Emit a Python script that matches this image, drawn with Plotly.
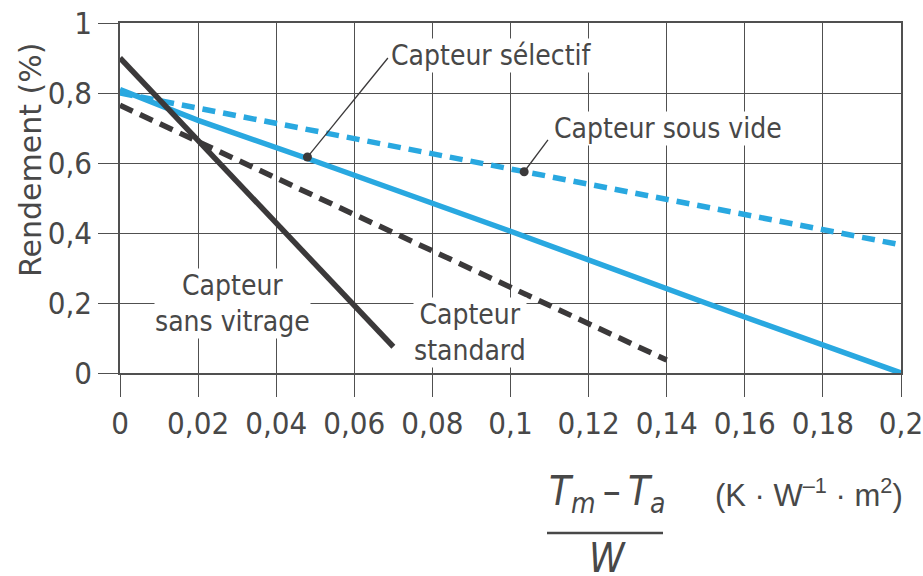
import plotly.graph_objects as go

# Data
x_sans_vitrage = [0.0, 0.07]
y_sans_vitrage = [0.90, 0.075]

x_standard = [0.0, 0.14]
y_standard = [0.765, 0.037]

x_selectif = [0.0, 0.02, 0.05, 0.10, 0.15, 0.20]
y_selectif = [0.81, 0.722, 0.605, 0.405, 0.20, 0.0]

x_sous_vide = [0.0, 0.2]
y_sous_vide = [0.80, 0.366]

marker_x = [0.048, 0.1035]
marker_y = [0.617, 0.575]

x_ticks = [0, 0.02, 0.04, 0.06, 0.08, 0.1, 0.12, 0.14, 0.16, 0.18, 0.2]
x_ticklabels = ["0", "0,02", "0,04", "0,06", "0,08", "0,1", "0,12", "0,14", "0,16", "0,18", "0,2"]
y_ticks = [0, 0.2, 0.4, 0.6, 0.8, 1.0]
y_ticklabels = ["0", "0,2", "0,4", "0,6", "0,8", "1"]

BLUE = "#29a8e0"
DARK = "#3b393a"
TXT = "#484848"
GRID = "#505050"
NARROW = "Liberation Sans Narrow, DejaVu Sans Condensed, sans-serif"
REG = "Liberation Sans, Arial, sans-serif"

L, R, T, B = 120, 22, 23, 203
PW, PH = 923 - L - R, 576 - T - B


def px(xp):
    return (xp - L) / PW


def py(yp):
    return (576 - B - yp) / PH


fig = go.Figure()

fig.add_trace(go.Scatter(x=x_sous_vide, y=y_sous_vide, mode="lines",
                         line=dict(color=BLUE, width=5.5, dash="13px,8px"), showlegend=False))
fig.add_trace(go.Scatter(x=x_selectif, y=y_selectif, mode="lines",
                         line=dict(color=BLUE, width=5.5), showlegend=False))
fig.add_trace(go.Scatter(x=x_standard, y=y_standard, mode="lines",
                         line=dict(color=DARK, width=5.5, dash="14px,8px"), showlegend=False))
fig.add_trace(go.Scatter(x=x_sans_vitrage, y=y_sans_vitrage, mode="lines",
                         line=dict(color=DARK, width=5.5), showlegend=False))

# leader lines
fig.add_trace(go.Scatter(x=[marker_x[0], 0.0686], y=[marker_y[0], 0.90], mode="lines",
                         line=dict(color=DARK, width=1.3), showlegend=False))
fig.add_trace(go.Scatter(x=[marker_x[1], 0.1096], y=[marker_y[1], 0.666], mode="lines",
                         line=dict(color=DARK, width=1.3), showlegend=False))
fig.add_trace(go.Scatter(x=marker_x, y=marker_y, mode="markers",
                         marker=dict(color=DARK, size=9), showlegend=False))

lab_font = dict(family=NARROW, size=28, color=TXT)
fig.add_annotation(x=0.0691, y=0.906, text="Capteur sélectif", showarrow=False,
                   xanchor="left", yanchor="middle", font=lab_font, bgcolor="white",
                   borderpad=0)
fig.add_annotation(x=0.1109, y=0.700, text="Capteur sous vide", showarrow=False,
                   xanchor="left", yanchor="middle", font=lab_font, bgcolor="white",
                   borderpad=0)
fig.add_annotation(x=0.0289, y=0.200, text="Capteur<br>sans vitrage", showarrow=False,
                   xanchor="center", yanchor="middle", font=lab_font, bgcolor="white",
                   borderpad=0)
fig.add_annotation(x=0.0896, y=0.117, text="Capteur<br>standard", showarrow=False,
                   xanchor="center", yanchor="middle", font=lab_font, bgcolor="white",
                   borderpad=0)

# y-axis title
fig.add_annotation(xref="paper", yref="paper", x=px(30), y=py(160),
                   text="Rendement (%)", textangle=-90, showarrow=False,
                   xanchor="center", yanchor="middle",
                   font=dict(family="DejaVu Sans, sans-serif", size=30, color=TXT))

# x-axis title (fraction)
frac_font = dict(family=NARROW, size=40, color=TXT)
fig.add_annotation(xref="paper", yref="paper", x=px(607), y=py(494),
                   text="<i>T<sub>m</sub></i>\u2009–\u2009<i>T<sub>a</sub></i>", showarrow=False,
                   xanchor="center", yanchor="middle", font=frac_font)
fig.add_shape(type="line", xref="paper", yref="paper",
              x0=px(547), x1=px(663), y0=py(533), y1=py(533),
              line=dict(color=TXT, width=2.5))
fig.add_annotation(xref="paper", yref="paper", x=px(607), y=py(558),
                   text="<i>W</i>", showarrow=False,
                   xanchor="center", yanchor="middle", font=frac_font)
fig.add_annotation(xref="paper", yref="paper", x=px(809), y=py(493),
                   text="(K · W<sup>–1</sup> · m<sup>2</sup>)", showarrow=False,
                   xanchor="center", yanchor="middle",
                   font=dict(family=REG, size=31, color=TXT))

fig.update_xaxes(range=[0, 0.2], tickvals=x_ticks, ticktext=x_ticklabels,
                 showgrid=True, gridcolor=GRID, gridwidth=1,
                 showline=True, linecolor=GRID, linewidth=1.5, mirror=True,
                 ticks="outside", ticklen=22, tickcolor=GRID, tickwidth=1,
                 ticklabeloverflow="allow",
                 tickfont=dict(family=NARROW, size=31, color=TXT), zeroline=False)
fig.update_yaxes(range=[0, 1], tickvals=y_ticks, ticktext=y_ticklabels,
                 showgrid=True, gridcolor=GRID, gridwidth=1,
                 showline=True, linecolor=GRID, linewidth=1.5, mirror=True,
                 ticks="outside", ticklen=20, tickcolor=GRID, tickwidth=1,
                 ticklabeloverflow="allow",
                 tickfont=dict(family=NARROW, size=31, color=TXT), zeroline=False)

fig.update_layout(width=923, height=576, plot_bgcolor="white", paper_bgcolor="white",
                  margin=dict(l=L, r=R, t=T, b=B, autoexpand=False))

fig.write_html("out.html")
